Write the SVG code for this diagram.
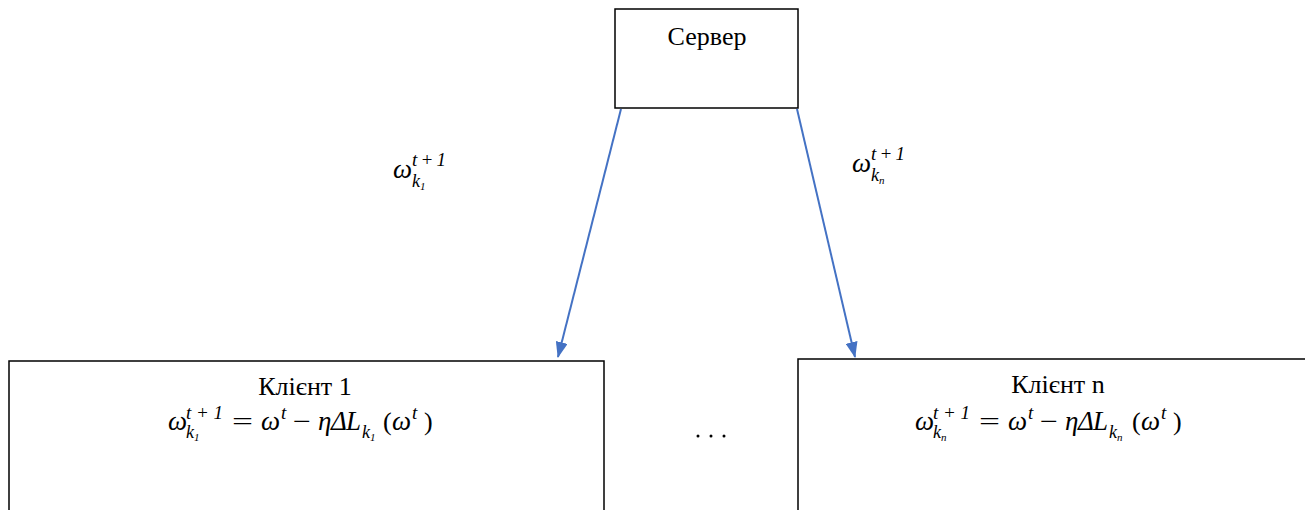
<svg xmlns="http://www.w3.org/2000/svg" width="1305" height="510" viewBox="0 0 1305 510">
<defs>
<style>
.box{fill:#fff;stroke:#000;stroke-width:1.5}
.lbl{font-family:"Liberation Serif",serif;font-size:26px;fill:#000}
.m{font-family:"Liberation Serif",serif;font-style:italic;font-size:27px;fill:#000}
.mu{font-family:"Liberation Serif",serif;font-size:26px;fill:#000}
.sup{font-family:"Liberation Serif",serif;font-style:italic;font-size:19px;fill:#000}
.sub{font-family:"Liberation Serif",serif;font-style:italic;font-size:18px;fill:#000}
.subs{font-family:"Liberation Serif",serif;font-style:italic;font-size:11px;fill:#000}
.conn{stroke:#4472C4;stroke-width:2;fill:none}
</style>
<marker id="ah" markerWidth="16" markerHeight="12" refX="15" refY="6" orient="auto" markerUnits="userSpaceOnUse">
<path d="M0,0 L16,6 L0,12 Z" fill="#4472C4"/>
</marker>
</defs>
<rect width="1305" height="510" fill="#fff"/>

<g id="server">
<rect class="box" x="615" y="9" width="183" height="99"/>
<text class="lbl" x="707" y="45" text-anchor="middle">Сервер</text>
</g>

<g id="client1">
<rect class="box" x="9" y="361" width="595" height="160"/>
<text class="lbl" x="305" y="395" text-anchor="middle">Клієнт 1</text>
<text class="m" x="168" y="430">ω</text>
<text class="sup" x="186" y="419" textLength="37" lengthAdjust="spacing">t+1</text>
<text class="sub" x="186" y="438">k<tspan class="subs" dy="3">1</tspan></text>
<text class="mu" x="232" y="430" textLength="21" lengthAdjust="spacingAndGlyphs">=</text>
<text class="m" x="261" y="430">ω</text>
<text class="sup" x="281" y="419">t</text>
<text class="mu" x="293" y="430" textLength="18" lengthAdjust="spacingAndGlyphs">−</text>
<text class="m" x="318" y="430">η</text>
<text class="m" x="331" y="430">Δ</text>
<text class="m" x="346" y="430">L</text>
<text class="sub" x="362" y="438">k<tspan class="subs" dy="3">1</tspan></text>
<text class="mu" x="383" y="430">(</text>
<text class="m" x="392" y="430">ω</text>
<text class="sup" x="412" y="419">t</text>
<text class="mu" x="424" y="430">)</text>
</g>

<g id="clientn">
<rect class="box" x="798" y="359" width="520" height="160"/>
<text class="lbl" x="1058" y="393" text-anchor="middle">Клієнт n</text>
<text class="m" x="915" y="430">ω</text>
<text class="sup" x="933" y="419" textLength="37" lengthAdjust="spacing">t+1</text>
<text class="sub" x="933" y="438">k<tspan class="subs" dy="3">n</tspan></text>
<text class="mu" x="979" y="430" textLength="21" lengthAdjust="spacingAndGlyphs">=</text>
<text class="m" x="1008" y="430">ω</text>
<text class="sup" x="1028" y="419">t</text>
<text class="mu" x="1040" y="430" textLength="18" lengthAdjust="spacingAndGlyphs">−</text>
<text class="m" x="1065" y="430">η</text>
<text class="m" x="1078" y="430">Δ</text>
<text class="m" x="1093" y="430">L</text>
<text class="sub" x="1109" y="438">k<tspan class="subs" dy="3">n</tspan></text>
<text class="mu" x="1132" y="430">(</text>
<text class="m" x="1141" y="430">ω</text>
<text class="sup" x="1161" y="419">t</text>
<text class="mu" x="1173" y="430">)</text>
</g>

<g id="dots">
<circle cx="698" cy="436" r="1.5" fill="#000"/>
<circle cx="711" cy="436" r="1.5" fill="#000"/>
<circle cx="724" cy="436" r="1.5" fill="#000"/>
</g>

<g id="label1">
<text class="m" x="393" y="178">ω</text>
<text class="sup" x="412" y="166" textLength="34" lengthAdjust="spacing">t+1</text>
<text class="sub" x="412" y="187">k<tspan class="subs" dy="3">1</tspan></text>
</g>

<g id="labeln">
<text class="m" x="852" y="172">ω</text>
<text class="sup" x="871" y="160" textLength="34" lengthAdjust="spacing">t+1</text>
<text class="sub" x="871" y="181">k<tspan class="subs" dy="3">n</tspan></text>
</g>

<g id="connectors">
<line class="conn" x1="621" y1="109" x2="558" y2="357" marker-end="url(#ah)"/>
<line class="conn" x1="797" y1="109" x2="855" y2="357" marker-end="url(#ah)"/>
</g>
</svg>
